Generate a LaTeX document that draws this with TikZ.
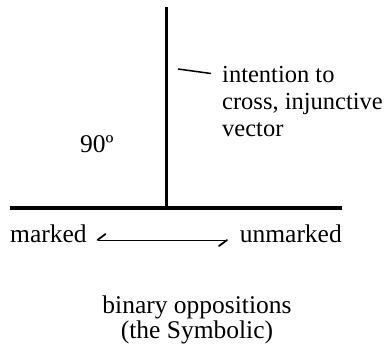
\documentclass[tikz,border=0pt]{standalone}
\usepackage{fontspec}
\setmainfont{Liberation Serif}
\begin{document}
\begin{tikzpicture}[x=1pt,y=-1pt,
  lbl/.style={font=\fontsize{25.5}{27}\selectfont, inner sep=0pt, anchor=base west},
  axis/.style={line width=3.2pt},
  tick/.style={line width=1.5pt},
  harp/.style={line width=1pt},
  barb/.style={line width=1.8pt, line cap=round}]
\useasboundingbox (0,0) rectangle (387,349);
\coordinate (vtop) at (166.5,7);
\coordinate (vbot) at (166.5,208);
\coordinate (hl) at (10,208);
\coordinate (hr) at (342,208);
\draw[axis] (vtop) -- (vbot);
\draw[axis] (hl) -- (hr);
\coordinate (t1) at (178,69);
\coordinate (t2) at (211,73.5);
\draw[tick] (t1) -- (t2);
\node[lbl, align=left, font=\fontsize{24.5}{27}\selectfont] (intent) at (222,136) {intention to\\cross, injunctive\\vector};
\node[lbl] (ninety) at (80,152) {90º};
\node[lbl] (marked) at (10,242) {marked};
\node[lbl, anchor=base east] (unmarked) at (342,242) {unmarked};
\coordinate (a1) at (97.5,240);
\coordinate (a2) at (227,240);
\coordinate (b1) at (105.5,234);
\coordinate (b2) at (219,246);
\draw[harp] (a1) -- (a2);
\draw[barb] (a1) -- (b1);
\draw[barb] (a2) -- (b2);
\node[lbl, align=center, anchor=base,
  font=\fontsize{25.5}{25}\selectfont] (bin) at (197,338) {binary oppositions\\(the Symbolic)};
\end{tikzpicture}
\end{document}
